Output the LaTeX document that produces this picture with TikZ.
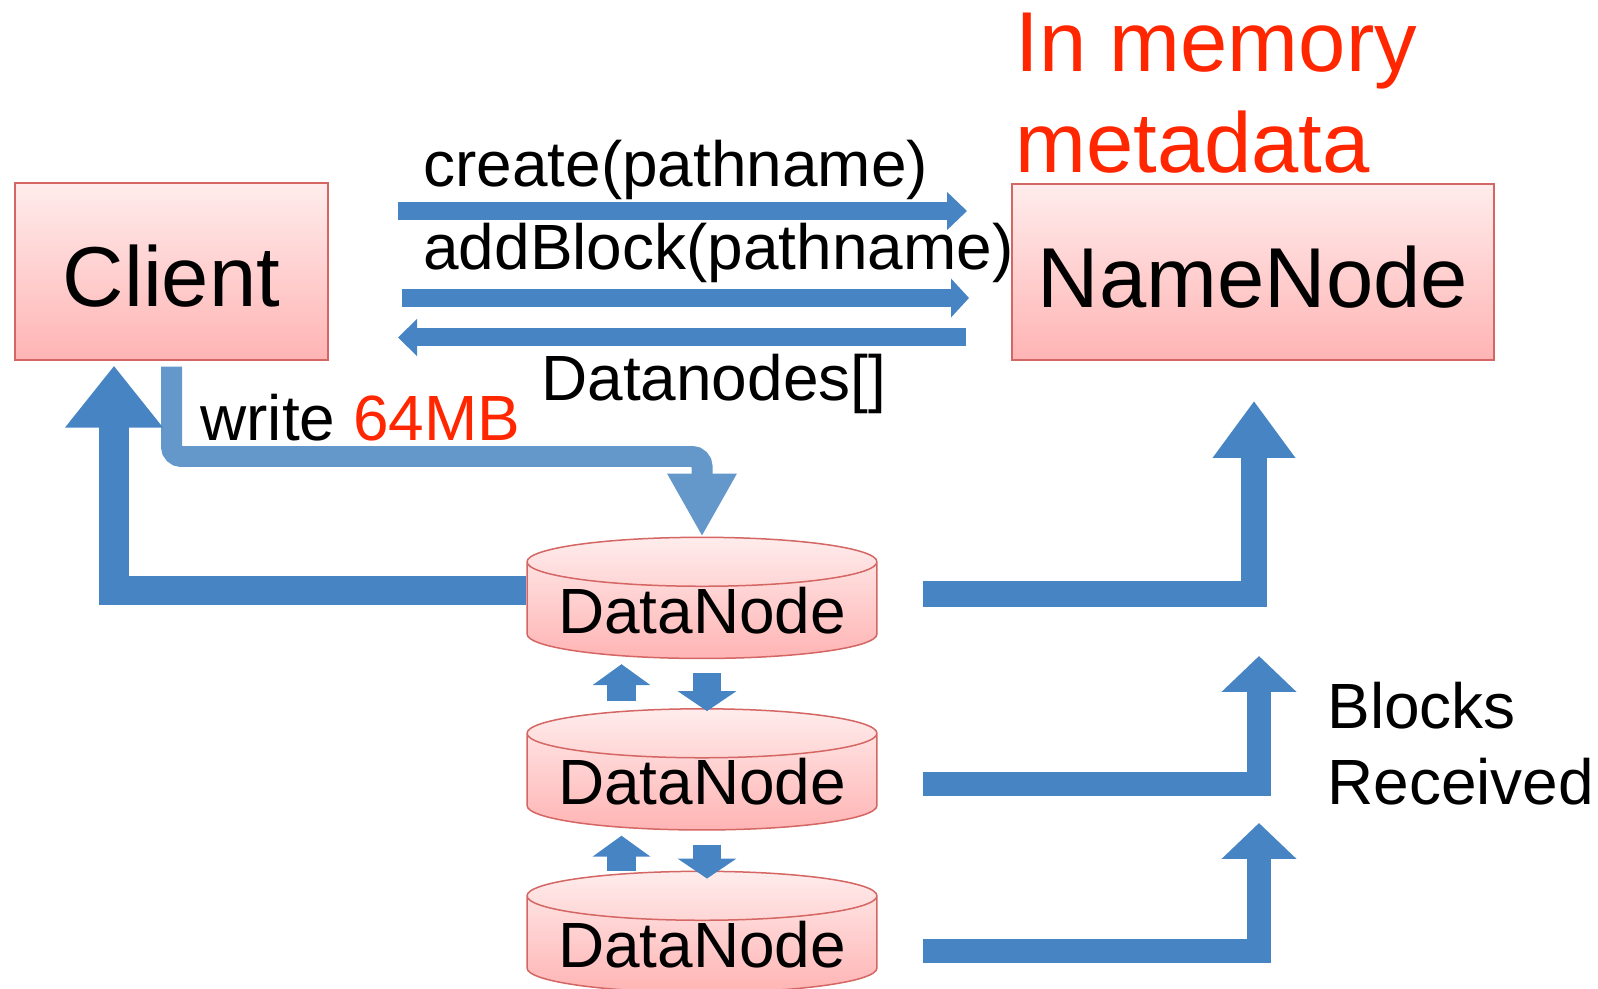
\documentclass[tikz,border=0pt]{standalone}
\usepackage{fontspec}
\setmainfont{Liberation Sans}
\usetikzlibrary{arrows.meta,shapes.geometric}

\definecolor{boxline}{RGB}{212,102,100}
\definecolor{pinktop}{RGB}{255,236,236}
\definecolor{pinkbot}{RGB}{255,180,180}
\definecolor{flowblue}{RGB}{70,132,196}
\definecolor{writeblue}{RGB}{100,152,202}
\definecolor{memred}{RGB}{255,38,0}

\newcommand{\bigsz}{\fontsize{48.4}{57.5}\selectfont}
\newcommand{\midsz}{\fontsize{36.4}{42.7}\selectfont}

\begin{document}
\begin{tikzpicture}[x=0.02cm,y=-0.02cm,
    srvbox/.style={draw=boxline,line width=0.03cm,top color=pinktop,bottom color=pinkbot,
      inner sep=0pt,text height=1.42cm,text depth=0cm,font=\bigsz},
    dnode/.style={cylinder,shape border rotate=90,aspect=0.17,draw=boxline,line width=0.03cm,
      top color=pinktop,bottom color=pinkbot,minimum width=7cm,minimum height=2.4cm,
      inner sep=0pt,font=\midsz},
    txt/.style={anchor=base west,inner sep=0pt,font=\midsz},
    callarrow/.style={flowblue,line width=0.36cm},
    writearrow/.style={writeblue,line width=0.42cm,rounded corners=0.2cm,
      -{Triangle[length=1.26cm,width=1.3cm]}},
    bigarrow/.style={flowblue,line join=miter},
    stepup/.style={flowblue,line width=0.58cm,shorten >=0.1cm,
      -{Triangle[length=0.42cm,width=1.14cm]}},
    stepdown/.style={flowblue,line width=0.56cm,shorten <=0.28cm,
      -{Triangle[length=0.4cm,width=1.16cm]}}]
  \useasboundingbox (0,0) rectangle (1598,989);

  % Client and NameNode
  \node[srvbox,minimum width=6.26cm,minimum height=3.54cm] (client) at (171.5,271.5) {Client};
  \node[srvbox,minimum width=9.64cm,minimum height=3.52cm] (namenode) at (1253,272) {NameNode};
  \node[txt,font=\bigsz,text=memred,align=left] (inmem) at (1015,173) {In memory\\metadata};

  % DataNodes
  \foreach \i/\y in {1/610.5,2/782,3/944.5}
    \node[dnode] (dn\i) at (702,\y) {DataNode};

  % calls to the NameNode
  \coordinate (create-s) at (398,211);
  \coordinate (create-e) at (967,211);
  \coordinate (add-s) at (402,298);
  \coordinate (add-e) at (969,298);
  \coordinate (reply-s) at (966,337.5);
  \coordinate (reply-e) at (398,337.5);
  \draw[callarrow,-{Triangle[length=0.4cm,width=0.74cm]}] (create-s) -- (create-e);
  \draw[callarrow,-{Triangle[length=0.36cm,width=0.76cm]}] (add-s) -- (add-e);
  \draw[callarrow,-{Triangle[length=0.38cm,width=0.72cm]}] (reply-s) -- (reply-e);
  \node[txt] (create) at (423,187) {create(pathname)};
  \node[txt] (addblock) at (423,270) {addBlock(pathname)};
  \node[txt] (reply) at (541,401) {Datanodes[]};

  % write to the first DataNode
  \draw[writearrow,shorten <=0.12cm] (client.south) |- (dn1.north |- 0,456.5) -- (dn1.north);
  \node[txt] (write) at (200,440) {write \textcolor{memred}{64MB}};

  % pipeline between DataNodes
  \foreach \a/\b/\su/\sd in {1/2/0.14cm/-0.06cm,2/3/0cm/-0.16cm} {
    \draw[stepup,shorten <=\su] (dn\b.north -| 621.5,0) -- (dn\a.south -| 621.5,0);
    \draw[stepdown,shorten >=\sd] (dn\a.south -| 707,0) -- (dn\b.north -| 707,0);
  }

  % ack back to Client
  \draw[bigarrow,line width=0.6cm,shorten >=0.1cm,-{Triangle[length=1.24cm,width=1.88cm]}]
    (dn1.west |- 0,590.5) -| (client.south -| 114,0);

  % blocks received
  \coordinate (br1) at (1254,401);
  \coordinate (br2) at (1259,656);
  \coordinate (br3) at (1259,823);
  \draw[bigarrow,line width=0.52cm,-{Triangle[length=1.14cm,width=1.58cm]}]
    ([xshift=0.9cm]dn1.east |- 0,594) -| (br1);
  \draw[bigarrow,line width=0.48cm,-{Triangle[length=0.72cm,width=1.46cm]}]
    ([xshift=0.9cm]dn2.east |- 0,784) -| (br2);
  \draw[bigarrow,line width=0.48cm,-{Triangle[length=0.72cm,width=1.46cm]}]
    ([xshift=0.9cm]dn3.east |- 0,951) -| (br3);
  \node[txt,align=left] (blocks) at (1327,804) {Blocks\\Received};
\end{tikzpicture}
\end{document}
